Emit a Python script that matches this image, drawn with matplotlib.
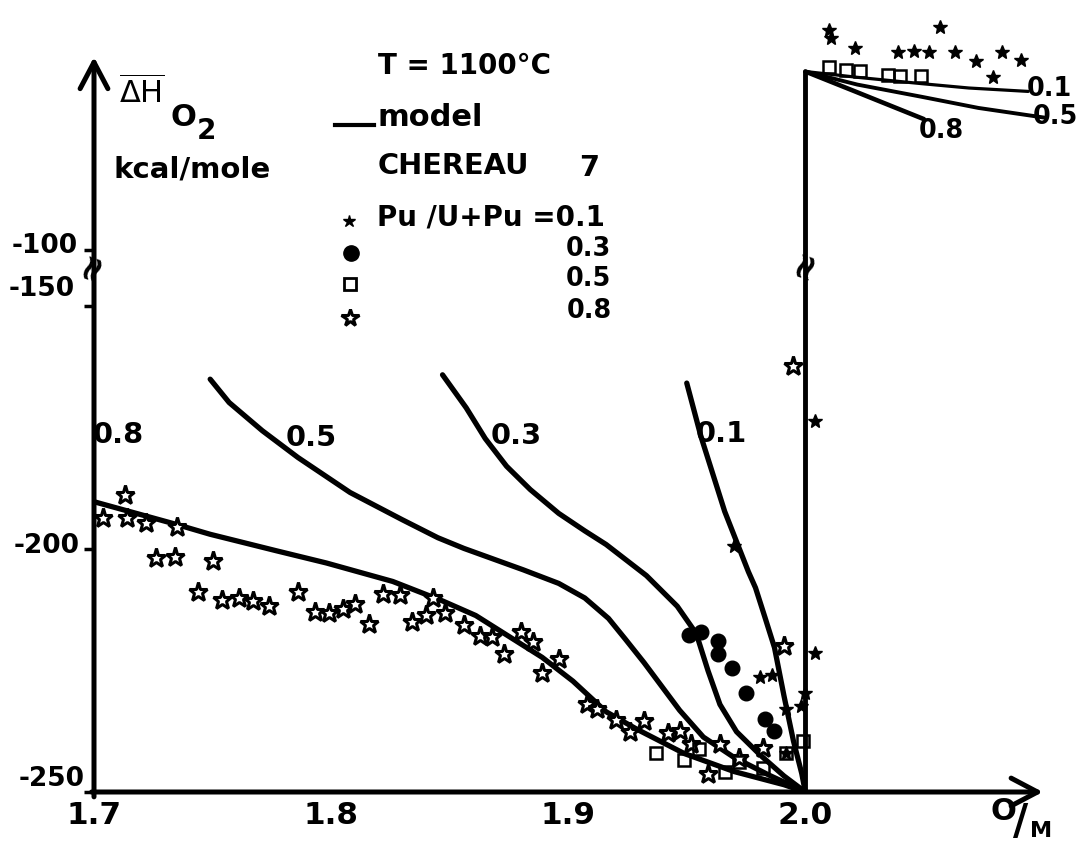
import matplotlib
matplotlib.use("Agg")
import matplotlib.pyplot as plt
from matplotlib.lines import Line2D
from matplotlib import font_manager

# ---- values: O/M ratio vs partial molar enthalpy of O2 (kcal/mole) ----

# model curves below the axis break, labelled by Pu/(U+Pu)
om_m08 = [1.700, 1.735, 1.749, 1.777, 1.798, 1.826, 1.847, 1.861, 1.875, 1.889, 1.902, 1.916, 1.929, 1.949, 1.970, 1.991, 2.000]
dh_m08 = [-190.3, -195.0, -197.0, -200.4, -202.9, -206.7, -210.7, -213.7, -218.0, -222.3, -227.2, -233.5, -237.1, -242.1, -245.8, -248.5, -250.0]

om_m05 = [1.749, 1.757, 1.771, 1.786, 1.808, 1.830, 1.845, 1.856, 1.881, 1.896, 1.907, 1.917, 1.924, 1.932, 1.947, 1.957, 1.970, 1.985, 2.000]
dh_m05 = [-165.1, -169.9, -175.7, -181.2, -188.4, -194.0, -197.7, -199.9, -204.3, -207.1, -210.1, -214.3, -218.5, -223.4, -233.2, -238.7, -242.9, -246.6, -250.0]

om_m03 = [1.847, 1.857, 1.865, 1.874, 1.884, 1.896, 1.907, 1.916, 1.933, 1.946, 1.954, 1.959, 1.964, 1.971, 1.981, 1.991, 2.000]
dh_m03 = [-164.2, -171.0, -177.3, -183.0, -187.8, -192.7, -196.3, -199.1, -205.5, -211.8, -217.4, -225.1, -232.0, -237.6, -242.4, -246.7, -250.0]

om_m01 = [1.950, 1.956, 1.966, 1.976, 1.979, 1.983, 1.987, 1.991, 1.995, 1.9985, 2.000]
dh_m01 = [-165.9, -176.9, -192.3, -204.7, -208.0, -214.1, -220.3, -230.2, -239.5, -246.2, -250.0]

# stoichiometric vertical and the hyperstoichiometric branches above the break
om_stoich = 2.0
dh_corner = -63.3

om_u01 = [2.000, 2.022, 2.049, 2.069, 2.094]
dh_u01 = [-63.3, -64.5, -65.8, -66.7, -67.4]
om_u05 = [2.000, 2.022, 2.049, 2.073, 2.101]
dh_u05 = [-63.3, -66.0, -68.5, -70.8, -72.8]
om_u08 = [2.000, 2.022, 2.050]
dh_u08 = [-63.3, -67.6, -73.1]

# CHEREAU measurements
om_p01 = [1.970, 1.981, 1.986, 2.004, 2.000, 1.998, 1.992, 1.992, 2.004,
          2.010, 2.011, 2.021, 2.039, 2.046, 2.052, 2.057, 2.063, 2.072, 2.079, 2.083, 2.091]
dh_p01 = [-199.5, -226.4, -226.0, -221.5, -229.7, -232.3, -232.9, -242.0, -173.7,
          -54.7, -56.4, -58.5, -59.2, -59.0, -59.3, -54.2, -59.2, -61.2, -64.5, -59.2, -61.0]

om_p03 = [1.951, 1.956, 1.963, 1.963, 1.969, 1.975, 1.983, 1.987]
dh_p03 = [-217.8, -217.1, -219.0, -221.6, -224.4, -229.6, -234.9, -237.4]

om_p05 = [1.937, 1.949, 1.955, 1.966, 1.972, 1.982, 1.992, 1.999,
          2.010, 2.017, 2.023, 2.035, 2.040, 2.049]
dh_p05 = [-242.0, -243.5, -241.1, -245.8, -243.8, -245.1, -242.0, -239.6,
          -62.3, -63.0, -63.1, -64.1, -64.3, -64.2]

om_p08 = [1.713, 1.704, 1.714, 1.722, 1.735, 1.726, 1.734, 1.750, 1.744, 1.754,
          1.761, 1.767, 1.774, 1.786, 1.793, 1.799, 1.805, 1.810, 1.816, 1.822,
          1.829, 1.834, 1.840, 1.843, 1.848, 1.856, 1.863, 1.868, 1.873, 1.880,
          1.885, 1.889, 1.896, 1.908, 1.912, 1.920, 1.926, 1.932, 1.942, 1.947,
          1.952, 1.959, 1.964, 1.972, 1.982, 1.991, 1.995]
dh_p08 = [-189.0, -193.6, -193.7, -194.7, -195.4, -201.9, -201.6, -202.4, -208.9, -210.5,
          -210.1, -210.8, -211.7, -208.8, -213.0, -213.2, -212.3, -211.3, -215.5, -209.2,
          -209.4, -215.1, -213.7, -210.0, -213.2, -215.7, -217.9, -218.1, -221.7, -217.0,
          -219.1, -225.6, -222.6, -232.0, -233.0, -235.2, -237.7, -235.3, -237.9, -237.5,
          -240.1, -246.3, -240.2, -243.0, -241.0, -219.9, -162.3]

xticks = [1.7, 1.8, 1.9, 2.0]
xticklabels = ["1.7", "1.8", "1.9", "2.0"]
yticks_lo = [-250, -200, -150]
yticks_hi = [-100]

# ---- figure ----
W, H = 1078, 841
plt.rcParams['font.family'] = 'DejaVu Sans'

names = {f.name for f in font_manager.fontManager.ttflist}
if 'Liberation Sans Narrow' in names:
    NARROW = dict(family=['Liberation Sans Narrow', 'DejaVu Sans'], weight='bold')
    ns = 1.0
else:
    NARROW = dict(family='DejaVu Sans', weight='bold')
    ns = 0.8

fig = plt.figure(figsize=(W / 100, H / 100), dpi=100)
ax_lo = fig.add_axes([94 / W, (H - 792) / H, (W - 94) / W, 530 / H])
ax_hi = fig.add_axes([94 / W, (H - 262) / H, (W - 94) / W, 260 / H])

xlim = (1.7, 1.7 + (W - 94) / 2371)
ax_lo.set_xlim(xlim)
ax_hi.set_xlim(xlim)
ax_lo.set_ylim(-250, -141)
ax_hi.set_ylim(-102.5, -102.5 + 260 / 4.86)

for ax in (ax_lo, ax_hi):
    for s in ax.spines.values():
        s.set_visible(False)
    ax.set_xticks([])
    ax.patch.set_alpha(0)
ax_lo.set_yticks(yticks_lo)
ax_hi.set_yticks(yticks_hi)
for ax in (ax_lo, ax_hi):
    ax.tick_params(axis='y', length=7, width=2.5, labelleft=False)

lw = 3.8
for om, dh in [(om_m08, dh_m08), (om_m05, dh_m05), (om_m03, dh_m03), (om_m01, dh_m01)]:
    ax_lo.plot(om, dh, color='black', lw=lw, solid_capstyle='round', solid_joinstyle='round')

ax_lo.axvline(om_stoich, color='black', lw=3.5)
ax_hi.vlines(om_stoich, ax_hi.get_ylim()[0], dh_corner, color='black', lw=3.5)
ax_hi.plot(om_u01, dh_u01, color='black', lw=2.3, solid_capstyle='round', clip_on=False)
ax_hi.plot(om_u05, dh_u05, color='black', lw=2.8, solid_capstyle='round', clip_on=False)
ax_hi.plot(om_u08, dh_u08, color='black', lw=3.3, solid_capstyle='round', clip_on=False)

for ax in (ax_lo, ax_hi):
    ax.plot(om_p08, dh_p08, ls='none', marker='*', ms=14, mfc='white', mec='black', mew=2.2)
    ax.plot(om_p05, dh_p05, ls='none', marker='s', ms=9, mfc='none', mec='black', mew=1.8)
    ax.plot(om_p03, dh_p03, ls='none', marker='o', ms=10.5, color='black')
    ax.plot(om_p01, dh_p01, ls='none', marker='*', ms=10, color='black')

# axes with arrows
arrow = dict(arrowstyle='->,head_length=0.95,head_width=0.5', lw=3.6, color='black',
             mutation_scale=20, shrinkA=0, shrinkB=0)
ax_lo.annotate('', xy=(1.7, -60.3), xycoords=ax_hi.transData,
               xytext=(1.7, -251), textcoords=ax_lo.transData,
               arrowprops=arrow, annotation_clip=False)
ax_lo.annotate('', xy=(2.1002, -250), xytext=(1.699, -250),
               arrowprops=arrow, annotation_clip=False)

# tick labels
ylab = dict(size=19, weight='bold', ha='right', va='center', textcoords='offset points',
            xycoords=('axes fraction', 'data'), annotation_clip=False)
ax_lo.annotate('-250', xy=(0, -250), xytext=(-7, 9.4), **ylab)
ax_lo.annotate('-200', xy=(0, -200), xytext=(-10, 1.8), **ylab)
ax_lo.annotate('-150', xy=(0, -150), xytext=(-14, 12), **ylab)
ax_hi.annotate('-100', xy=(0, -100), xytext=(-11.5, 2.6), **ylab)

for v, lab in zip(xticks, xticklabels):
    ax_lo.annotate(lab, xy=(v, -250), xytext=(0, -16.6), textcoords='offset points',
                   ha='center', va='center', size=28 * ns, annotation_clip=False, **NARROW)


def ftext(px, py, s, **kw):
    fig.text(px / W, 1 - py / H, s, **kw)


# axis break marks
ftext(92, 267, '≈', size=26, rotation=70, ha='center', va='center', weight='bold')
ftext(805, 265, '≈', size=26, rotation=70, ha='center', va='center', weight='bold')

# axis titles
ftext(119, 93, r'$\overline{\Delta\mathrm{H}}$', size=22, ha='left', va='center')
ftext(170, 117, 'O', size=22, ha='left', va='center', weight='bold')
ftext(197, 131, '2', size=20, ha='left', va='center', weight='bold')
ftext(114, 169, 'kcal/mole', size=21, ha='left', va='center', weight='bold')
ftext(1003, 811, 'O', size=22, ha='center', va='center', weight='bold')
ftext(1021, 822, '/', size=30, ha='center', va='center', weight='bold')
ftext(1041, 831, 'M', size=16, ha='center', va='center', weight='bold')

# legend block
ftext(378, 66, 'T = 1100°C', size=20, ha='left', va='center', weight='bold')
fig.add_artist(Line2D([335 / W, 374 / W], [1 - 125 / H, 1 - 125 / H], lw=3, color='black'))
ftext(377, 117, 'model', size=22, ha='left', va='center', weight='bold')
ftext(378, 166, 'CHEREAU', size=26 * ns, ha='left', va='center', **NARROW)
ftext(579, 168, '7', size=26 * ns, ha='left', va='center', **NARROW)
ftext(377, 217, 'Pu /U+Pu =0.1', size=20, ha='left', va='center', weight='bold')
ftext(611, 249, '0.3', size=23 * ns, ha='right', va='center', **NARROW)
ftext(611, 279, '0.5', size=23 * ns, ha='right', va='center', **NARROW)
ftext(612, 311, '0.8', size=23 * ns, ha='right', va='center', **NARROW)
fig.add_artist(Line2D([349 / W], [1 - 221 / H], marker='*', ms=9, color='black'))
fig.add_artist(Line2D([351 / W], [1 - 253 / H], marker='o', ms=11, color='black'))
fig.add_artist(Line2D([350 / W], [1 - 284 / H], marker='s', ms=9, mfc='none', mec='black', mew=2))
fig.add_artist(Line2D([350 / W], [1 - 318 / H], marker='*', ms=13, mfc='white', mec='black', mew=2.2))

# curve labels
for px, py, s in [(118, 435, '0.8'), (311, 438, '0.5'), (516, 436, '0.3'), (721, 434, '0.1')]:
    ftext(px, py, s, size=26 * ns, ha='center', va='center', **NARROW)
ftext(1049, 89, '0.1', size=23 * ns, ha='center', va='center', **NARROW)
ftext(1078, 117, '0.5', size=23 * ns, ha='right', va='center', **NARROW)
ftext(941, 131, '0.8', size=23 * ns, ha='center', va='center', **NARROW)

plt.savefig('out.png', dpi=100)
